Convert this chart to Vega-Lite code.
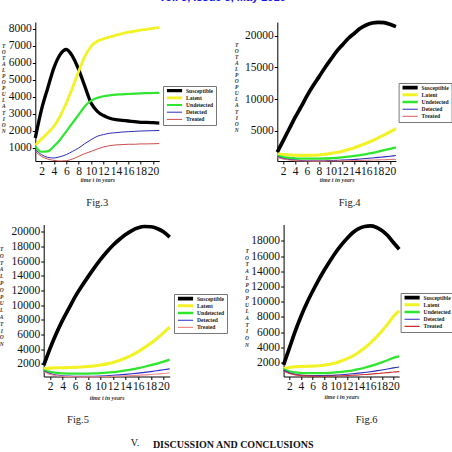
{
  "$schema": "https://vega.github.io/schema/vega-lite/v6.json",
  "autosize": {"type": "none"},
  "padding": {"left": 35.3, "top": 22, "right": 416.7, "bottom": 430},
  "background": "white",
  "datasets": {
    "f3": [
      {"t": 1, "Susceptible": 1570, "Latent": 1140, "Undetected": 1080, "Detected": 880, "Treated": 780},
      {"t": 2, "Susceptible": 3240, "Latent": 1510, "Undetected": 760, "Detected": 590, "Treated": 490},
      {"t": 3, "Susceptible": 4500, "Latent": 1860, "Undetected": 780, "Detected": 430, "Treated": 330},
      {"t": 4, "Susceptible": 5700, "Latent": 2260, "Undetected": 1080, "Detected": 390, "Treated": 250},
      {"t": 5, "Susceptible": 6480, "Latent": 2850, "Undetected": 1470, "Detected": 470, "Treated": 210},
      {"t": 6, "Susceptible": 6780, "Latent": 3630, "Undetected": 1960, "Detected": 590, "Treated": 230},
      {"t": 7, "Susceptible": 6380, "Latent": 4520, "Undetected": 2450, "Detected": 780, "Treated": 330},
      {"t": 8, "Susceptible": 5600, "Latent": 5500, "Undetected": 2940, "Detected": 980, "Treated": 490},
      {"t": 9, "Susceptible": 4600, "Latent": 6380, "Undetected": 3440, "Detected": 1240, "Treated": 650},
      {"t": 10, "Susceptible": 3630, "Latent": 6970, "Undetected": 3770, "Detected": 1470, "Treated": 780},
      {"t": 11, "Susceptible": 3140, "Latent": 7270, "Undetected": 3930, "Detected": 1670, "Treated": 920},
      {"t": 12, "Susceptible": 2890, "Latent": 7400, "Undetected": 4030, "Detected": 1770, "Treated": 1040},
      {"t": 13, "Susceptible": 2730, "Latent": 7520, "Undetected": 4080, "Detected": 1850, "Treated": 1120},
      {"t": 14, "Susceptible": 2650, "Latent": 7620, "Undetected": 4120, "Detected": 1880, "Treated": 1160},
      {"t": 15, "Susceptible": 2610, "Latent": 7720, "Undetected": 4140, "Detected": 1920, "Treated": 1180},
      {"t": 16, "Susceptible": 2570, "Latent": 7800, "Undetected": 4160, "Detected": 1940, "Treated": 1200},
      {"t": 17, "Susceptible": 2530, "Latent": 7860, "Undetected": 4180, "Detected": 1960, "Treated": 1200},
      {"t": 18, "Susceptible": 2490, "Latent": 7920, "Undetected": 4200, "Detected": 1980, "Treated": 1220},
      {"t": 19, "Susceptible": 2490, "Latent": 7970, "Undetected": 4210, "Detected": 1990, "Treated": 1220},
      {"t": 20, "Susceptible": 2470, "Latent": 8030, "Undetected": 4220, "Detected": 2000, "Treated": 1230},
      {"t": 21, "Susceptible": 2450, "Latent": 8070, "Undetected": 4230, "Detected": 2010, "Treated": 1240}
    ],
    "f4": [
      {"t": 1, "Susceptible": 1600, "Latent": 1300, "Undetected": 1000, "Detected": 900, "Treated": 800},
      {"t": 2, "Susceptible": 3430, "Latent": 1200, "Undetected": 800, "Detected": 600, "Treated": 500},
      {"t": 3, "Susceptible": 5260, "Latent": 1150, "Undetected": 680, "Detected": 430, "Treated": 340},
      {"t": 4, "Susceptible": 7090, "Latent": 1100, "Undetected": 620, "Detected": 330, "Treated": 250},
      {"t": 5, "Susceptible": 8760, "Latent": 1080, "Undetected": 580, "Detected": 270, "Treated": 200},
      {"t": 6, "Susceptible": 10490, "Latent": 1080, "Undetected": 560, "Detected": 240, "Treated": 180},
      {"t": 7, "Susceptible": 12050, "Latent": 1100, "Undetected": 560, "Detected": 230, "Treated": 170},
      {"t": 8, "Susceptible": 13470, "Latent": 1150, "Undetected": 570, "Detected": 230, "Treated": 170},
      {"t": 9, "Susceptible": 14930, "Latent": 1250, "Undetected": 590, "Detected": 240, "Treated": 175},
      {"t": 10, "Susceptible": 16240, "Latent": 1400, "Undetected": 630, "Detected": 260, "Treated": 185},
      {"t": 11, "Susceptible": 17540, "Latent": 1550, "Undetected": 690, "Detected": 290, "Treated": 200},
      {"t": 12, "Susceptible": 18590, "Latent": 1750, "Undetected": 770, "Detected": 330, "Treated": 215},
      {"t": 13, "Susceptible": 19630, "Latent": 2000, "Undetected": 870, "Detected": 380, "Treated": 235},
      {"t": 14, "Susceptible": 20420, "Latent": 2300, "Undetected": 990, "Detected": 440, "Treated": 260},
      {"t": 15, "Susceptible": 21200, "Latent": 2650, "Undetected": 1130, "Detected": 510, "Treated": 285},
      {"t": 16, "Susceptible": 21720, "Latent": 3000, "Undetected": 1290, "Detected": 590, "Treated": 310},
      {"t": 17, "Susceptible": 22040, "Latent": 3400, "Undetected": 1470, "Detected": 670, "Treated": 340},
      {"t": 18, "Susceptible": 22140, "Latent": 3850, "Undetected": 1680, "Detected": 760, "Treated": 370},
      {"t": 19, "Susceptible": 22090, "Latent": 4300, "Undetected": 1900, "Detected": 850, "Treated": 400},
      {"t": 20, "Susceptible": 21830, "Latent": 4800, "Undetected": 2120, "Detected": 950, "Treated": 430},
      {"t": 21, "Susceptible": 21460, "Latent": 5300, "Undetected": 2350, "Detected": 1050, "Treated": 460}
    ],
    "f5": [
      {"t": 1, "Susceptible": 1770, "Latent": 1300, "Undetected": 1100, "Detected": 1000, "Treated": 900},
      {"t": 2, "Susceptible": 4060, "Latent": 1400, "Undetected": 900, "Detected": 650, "Treated": 550},
      {"t": 3, "Susceptible": 6120, "Latent": 1450, "Undetected": 760, "Detected": 460, "Treated": 380},
      {"t": 4, "Susceptible": 7950, "Latent": 1450, "Undetected": 690, "Detected": 360, "Treated": 290},
      {"t": 5, "Susceptible": 9560, "Latent": 1480, "Undetected": 660, "Detected": 310, "Treated": 240},
      {"t": 6, "Susceptible": 11160, "Latent": 1500, "Undetected": 650, "Detected": 290, "Treated": 215},
      {"t": 7, "Susceptible": 12530, "Latent": 1550, "Undetected": 650, "Detected": 280, "Treated": 205},
      {"t": 8, "Susceptible": 13820, "Latent": 1620, "Undetected": 660, "Detected": 285, "Treated": 205},
      {"t": 9, "Susceptible": 15050, "Latent": 1700, "Undetected": 680, "Detected": 300, "Treated": 210},
      {"t": 10, "Susceptible": 16200, "Latent": 1820, "Undetected": 720, "Detected": 330, "Treated": 225},
      {"t": 11, "Susceptible": 17250, "Latent": 1980, "Undetected": 780, "Detected": 370, "Treated": 245},
      {"t": 12, "Susceptible": 18170, "Latent": 2180, "Undetected": 860, "Detected": 420, "Treated": 270},
      {"t": 13, "Susceptible": 18950, "Latent": 2450, "Undetected": 960, "Detected": 480, "Treated": 300},
      {"t": 14, "Susceptible": 19630, "Latent": 2780, "Undetected": 1080, "Detected": 550, "Treated": 340},
      {"t": 15, "Susceptible": 20180, "Latent": 3180, "Undetected": 1230, "Detected": 630, "Treated": 380},
      {"t": 16, "Susceptible": 20550, "Latent": 3650, "Undetected": 1400, "Detected": 720, "Treated": 430},
      {"t": 17, "Susceptible": 20730, "Latent": 4200, "Undetected": 1590, "Detected": 820, "Treated": 480},
      {"t": 18, "Susceptible": 20690, "Latent": 4800, "Undetected": 1800, "Detected": 930, "Treated": 540},
      {"t": 19, "Susceptible": 20460, "Latent": 5450, "Undetected": 2030, "Detected": 1050, "Treated": 600},
      {"t": 20, "Susceptible": 20000, "Latent": 6200, "Undetected": 2280, "Detected": 1170, "Treated": 670},
      {"t": 21, "Susceptible": 19270, "Latent": 7000, "Undetected": 2550, "Detected": 1300, "Treated": 740}
    ],
    "f6": [
      {"t": 1, "Susceptible": 1700, "Latent": 1200, "Undetected": 1100, "Detected": 1000, "Treated": 900},
      {"t": 2, "Susceptible": 3890, "Latent": 1350, "Undetected": 850, "Detected": 640, "Treated": 540},
      {"t": 3, "Susceptible": 6080, "Latent": 1450, "Undetected": 700, "Detected": 450, "Treated": 370},
      {"t": 4, "Susceptible": 8060, "Latent": 1480, "Undetected": 640, "Detected": 350, "Treated": 280},
      {"t": 5, "Susceptible": 9800, "Latent": 1500, "Undetected": 610, "Detected": 300, "Treated": 235},
      {"t": 6, "Susceptible": 11340, "Latent": 1520, "Undetected": 600, "Detected": 280, "Treated": 210},
      {"t": 7, "Susceptible": 12780, "Latent": 1570, "Undetected": 600, "Detected": 275, "Treated": 200},
      {"t": 8, "Susceptible": 14100, "Latent": 1650, "Undetected": 610, "Detected": 285, "Treated": 200},
      {"t": 9, "Susceptible": 15330, "Latent": 1780, "Undetected": 640, "Detected": 305, "Treated": 210},
      {"t": 10, "Susceptible": 16470, "Latent": 1950, "Undetected": 690, "Detected": 340, "Treated": 225},
      {"t": 11, "Susceptible": 17470, "Latent": 2200, "Undetected": 760, "Detected": 390, "Treated": 250},
      {"t": 12, "Susceptible": 18350, "Latent": 2500, "Undetected": 860, "Detected": 450, "Treated": 280},
      {"t": 13, "Susceptible": 19100, "Latent": 2880, "Undetected": 980, "Detected": 520, "Treated": 320},
      {"t": 14, "Susceptible": 19620, "Latent": 3350, "Undetected": 1130, "Detected": 600, "Treated": 365},
      {"t": 15, "Susceptible": 19890, "Latent": 3900, "Undetected": 1310, "Detected": 690, "Treated": 415},
      {"t": 16, "Susceptible": 19970, "Latent": 4550, "Undetected": 1520, "Detected": 790, "Treated": 470},
      {"t": 17, "Susceptible": 19800, "Latent": 5300, "Undetected": 1760, "Detected": 900, "Treated": 535},
      {"t": 18, "Susceptible": 19360, "Latent": 6150, "Undetected": 2020, "Detected": 1020, "Treated": 600},
      {"t": 19, "Susceptible": 18700, "Latent": 7050, "Undetected": 2300, "Detected": 1150, "Treated": 670},
      {"t": 20, "Susceptible": 17780, "Latent": 8050, "Undetected": 2600, "Detected": 1290, "Treated": 750},
      {"t": 21, "Susceptible": 16900, "Latent": 8800, "Undetected": 2800, "Detected": 1400, "Treated": 800}
    ]
  },
  "columns": 3,
  "align": "each",
  "bounds": "flush",
  "spacing": {"row": 63.5, "column": 107},
  "resolve": {"scale": {"color": "independent", "strokeWidth": "independent"}},
  "concat": [
    {
      "width": 124, "height": 139,
      "data": {"name": "f3"},
      "transform": [{"fold": ["Susceptible", "Latent", "Undetected", "Detected", "Treated"], "as": ["series", "v"]}],
      "title": {"text": "Fig.3", "orient": "bottom", "frame": "group", "anchor": "middle", "offset": 16, "dx": 0, "baseline": "top"},
      "mark": {"type": "line", "interpolate": "monotone"},
      "encoding": {
        "x": {"field": "t", "type": "quantitative", "scale": {"domain": [1, 21], "nice": false, "zero": false},
              "axis": {"values": [2, 4, 6, 8, 10, 12, 14, 16, 18, 20], "title": "time t in years", "titleY": 18}},
        "y": {"field": "v", "type": "quantitative", "scale": {"domain": [214, 8400], "nice": false, "zero": false},
              "axis": {"values": [1000, 2000, 3000, 4000, 5000, 6000, 7000, 8000], "title": ["T", "O", "T", "A", "L", "", "P", "O", "P", "U", "L", "A", "T", "I", "O", "N"], "titleX": -32, "titleY": 21, "titleLineHeight": 6.1}},
        "color": {"field": "series", "type": "nominal",
                  "scale": {"domain": ["Susceptible", "Latent", "Undetected", "Detected", "Treated"], "range": ["#000000", "#f2f226", "#2ee62e", "#2b2bb8", "#c83838"]},
                  "legend": {"title": null, "orient": "none", "legendX": 127.7, "legendY": 64}},
        "strokeWidth": {"field": "series", "type": "nominal",
                  "scale": {"type": "ordinal", "domain": ["Susceptible", "Latent", "Undetected", "Detected", "Treated"], "range": [3.3, 2.8, 2.2, 1, 0.9]},
                  "legend": {"title": null, "orient": "none", "legendX": 127.7, "legendY": 64}}
      }
    },
    {
      "width": 118.6, "height": 139,
      "data": {"name": "f4"},
      "transform": [{"fold": ["Susceptible", "Latent", "Undetected", "Detected", "Treated"], "as": ["series", "v"]}],
      "title": {"text": "Fig.4", "orient": "bottom", "frame": "group", "anchor": "middle", "offset": 16, "dx": 13, "baseline": "top"},
      "mark": {"type": "line", "interpolate": "monotone"},
      "encoding": {
        "x": {"field": "t", "type": "quantitative", "scale": {"domain": [1, 21], "nice": false, "zero": false},
              "axis": {"values": [2, 4, 6, 8, 10, 12, 14, 16, 18, 20], "title": "time t in years", "titleY": 18}},
        "y": {"field": "v", "type": "quantitative", "scale": {"domain": [191, 22200], "nice": false, "zero": false},
              "axis": {"values": [5000, 10000, 15000, 20000], "title": ["T", "O", "T", "A", "L", "", "P", "O", "P", "U", "L", "A", "T", "I", "O", "N"], "titleX": -41, "titleY": 20, "titleLineHeight": 6.1}},
        "color": {"field": "series", "type": "nominal",
                  "scale": {"domain": ["Susceptible", "Latent", "Undetected", "Detected", "Treated"], "range": ["#000000", "#f2f226", "#2ee62e", "#2b2bb8", "#e07a7a"]},
                  "legend": {"title": null, "orient": "none", "legendX": 121.3, "legendY": 61}},
        "strokeWidth": {"field": "series", "type": "nominal",
                  "scale": {"type": "ordinal", "domain": ["Susceptible", "Latent", "Undetected", "Detected", "Treated"], "range": [3.7, 3.1, 2.3, 1.1, 1.1]},
                  "legend": {"title": null, "orient": "none", "legendX": 121.3, "legendY": 61}}
      }
    },
    {
      "width": 1, "height": 1, "data": {"values": []}, "mark": "point", "encoding": {},
      "title": {"text": "Vol. 5, Issue 5, May 2016", "orient": "top", "frame": "group", "anchor": "middle", "offset": 19, "dx": -284.6, "font": "Liberation Sans", "fontSize": 11, "fontWeight": "bold", "color": "#1616e8"}
    },
    {
      "width": 134.4, "height": 152,
      "data": {"name": "f5"},
      "transform": [{"fold": ["Susceptible", "Latent", "Undetected", "Detected", "Treated"], "as": ["series", "v"]}],
      "title": {"text": "Fig.5", "orient": "bottom", "frame": "group", "anchor": "middle", "offset": 15, "dx": -24.5, "baseline": "top"},
      "mark": {"type": "line", "interpolate": "monotone"},
      "encoding": {
        "x": {"field": "t", "type": "quantitative", "scale": {"domain": [1, 21], "range": [8.4, 134.4], "nice": false, "zero": false},
              "axis": {"values": [2, 4, 6, 8, 10, 12, 14, 16, 18, 20], "title": "time t in years", "titleY": 20.5}},
        "y": {"field": "v", "type": "quantitative", "scale": {"domain": [259, 21000], "nice": false, "zero": false},
              "axis": {"offset": -8.4, "values": [2000, 4000, 6000, 8000, 10000, 12000, 14000, 16000, 18000, 20000], "title": ["T", "O", "T", "A", "L", "", "P", "O", "P", "U", "L", "A", "T", "I", "O", "N"], "titleX": -42.5, "titleY": 22, "titleLineHeight": 6.8}},
        "color": {"field": "series", "type": "nominal",
                  "scale": {"domain": ["Susceptible", "Latent", "Undetected", "Detected", "Treated"], "range": ["#000000", "#f2f226", "#2ee62e", "#2b2bc8", "#f08a8a"]},
                  "legend": {"title": null, "orient": "none", "legendX": 138.7, "legendY": 69.5}},
        "strokeWidth": {"field": "series", "type": "nominal",
                  "scale": {"type": "ordinal", "domain": ["Susceptible", "Latent", "Undetected", "Detected", "Treated"], "range": [3.7, 3.1, 2.3, 1.1, 1.1]},
                  "legend": {"title": null, "orient": "none", "legendX": 138.7, "legendY": 69.5}}
      }
    },
    {
      "width": 121.9, "height": 152,
      "data": {"name": "f6"},
      "transform": [{"fold": ["Susceptible", "Latent", "Undetected", "Detected", "Treated"], "as": ["series", "v"]}],
      "title": {"text": "Fig.6", "orient": "bottom", "frame": "group", "anchor": "middle", "offset": 15, "dx": 28.35, "baseline": "top"},
      "mark": {"type": "line", "interpolate": "monotone"},
      "encoding": {
        "x": {"field": "t", "type": "quantitative", "scale": {"domain": [1, 21], "range": [6.3, 121.9], "nice": false, "zero": false},
              "axis": {"values": [2, 4, 6, 8, 10, 12, 14, 16, 18, 20], "title": "time t in years", "titleY": 20}},
        "y": {"field": "v", "type": "quantitative", "scale": {"domain": [159, 20150], "nice": false, "zero": false},
              "axis": {"offset": -6.3, "values": [2000, 4000, 6000, 8000, 10000, 12000, 14000, 16000, 18000], "title": ["T", "O", "T", "A", "L", "", "P", "O", "P", "U", "L", "A", "T", "I", "O", "N"], "titleX": -37, "titleY": 24, "titleLineHeight": 6.7}},
        "color": {"field": "series", "type": "nominal",
                  "scale": {"domain": ["Susceptible", "Latent", "Undetected", "Detected", "Treated"], "range": ["#000000", "#f2f226", "#2ee62e", "#2b2bb8", "#c83232"]},
                  "legend": {"title": null, "orient": "none", "legendX": 123.3, "legendY": 68.5}},
        "strokeWidth": {"field": "series", "type": "nominal",
                  "scale": {"type": "ordinal", "domain": ["Susceptible", "Latent", "Undetected", "Detected", "Treated"], "range": [3.7, 3.1, 2.3, 1.1, 1.1]},
                  "legend": {"title": null, "orient": "none", "legendX": 123.3, "legendY": 68.5}}
      }
    },
    {
      "width": 1, "height": 1, "data": {"values": []}, "mark": "point", "encoding": {},
      "title": {"text": "DISCUSSION AND CONCLUSIONS", "orient": "bottom", "frame": "group", "anchor": "middle", "offset": 214.5, "dx": -273.6, "baseline": "top", "fontSize": 10, "fontWeight": "bold", "color": "#111"}
    },
    {
      "width": 1, "height": 1, "data": {"values": []}, "mark": "point", "encoding": {},
      "title": {"text": "V.", "orient": "top", "frame": "group", "anchor": "middle", "offset": -8, "dx": 99.2, "fontSize": 10, "color": "#111"}
    }
  ],
  "config": {
    "view": {"stroke": null},
    "title": {"font": "Liberation Serif", "fontSize": 10.5, "fontWeight": "normal", "color": "#222"},
    "axis": {
      "grid": false, "domainColor": "#000", "tickColor": "#000", "tickSize": 3, "format": "d",
      "labelColor": "#111", "labelFont": "Liberation Serif", "labelFontSize": 11.5, "labelPadding": 1,
      "labelOverlap": false, "labelFlush": false,
      "titleFont": "Liberation Serif", "titleFontStyle": "italic", "titleFontWeight": "bold", "titleFontSize": 6, "titleColor": "#333"
    },
    "axisY": {"titleAngle": 0, "titleAlign": "center", "titleBaseline": "top", "titleFontSize": 5.5},
    "axisX": {"titleBaseline": "middle"},
    "legend": {
      "symbolType": "stroke", "symbolSize": 230, "labelFont": "Liberation Serif", "labelFontSize": 5.6,
      "labelFontWeight": "bold", "labelColor": "#222", "padding": 2, "strokeColor": "#777", "fillColor": "white",
      "rowPadding": 0.2, "clipHeight": 5.2, "labelOffset": 2, "labelLimit": 60
    }
  }
}
